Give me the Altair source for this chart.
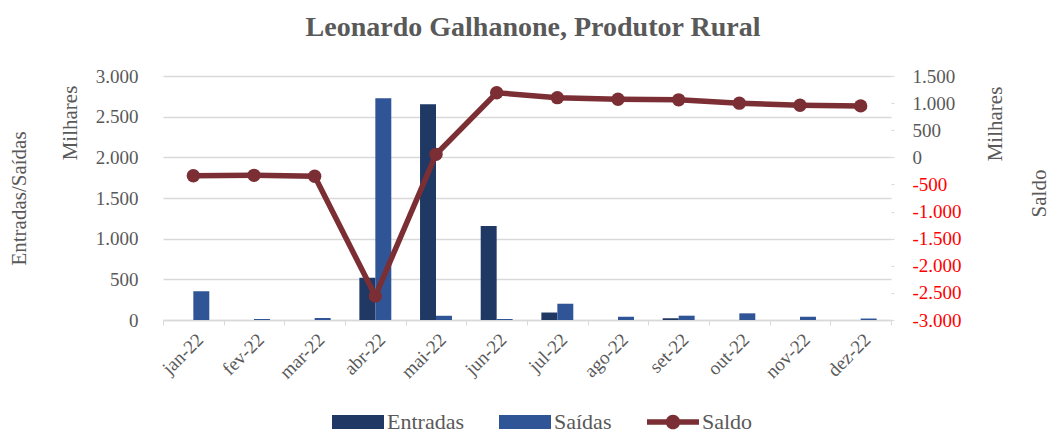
import altair as alt
import pandas as pd

months = ["jan-22", "fev-22", "mar-22", "abr-22", "mai-22", "jun-22",
          "jul-22", "ago-22", "set-22", "out-22", "nov-22", "dez-22"]
entradas = [0, 0, 0, 518, 2652, 1156, 92, 0, 20, 0, 0, 0]
saidas = [355, 12, 25, 2726, 52, 12, 200, 40, 53, 82, 40, 18]
saldo = [-340, -332, -350, -2558, 55, 1191, 1101, 1072, 1060, 999, 962, 949]

series_names = ["Entradas", "Saídas", "Saldo"]
series_colors = ["#203864", "#2F5597", "#7B2F34"]
left_ticks = [0, 500, 1000, 1500, 2000, 2500, 3000]
right_ticks = [-3000, -2500, -2000, -1500, -1000, -500, 0, 500, 1000, 1500]

FONT = "Liberation Serif"
GRAY = "#595959"

bars_df = pd.DataFrame({
    "mes": months * 2,
    "serie": ["Entradas"] * len(months) + ["Saídas"] * len(months),
    "valor": entradas + saidas,
})
line_df = pd.DataFrame({"mes": months, "saldo": saldo, "serie": ["Saldo"] * len(months)})

fmt = "(datum.value < 0 ? '-' : '') + replace(format(abs(datum.value), ','), ',', '.')"

x_enc = alt.X(
    "mes:N", sort=months, title=None,
    scale=alt.Scale(paddingInner=0, paddingOuter=0),
    axis=alt.Axis(labelAngle=-45, labelAlign="right", labelBaseline="top",
                  labelFontSize=19, labelColor=GRAY, labelPadding=5, labelFont=FONT,
                  tickBand="extent", tickColor="#D9D9D9", tickSize=5,
                  domainColor="#D9D9D9", domainWidth=1.5, grid=False),
)

rect_path = "M-1,-0.27L1,-0.27L1,0.27L-1,0.27Z"
line_path = ("M-1,-0.11L1,-0.11L1,0.11L-1,0.11Z"
             "M0.28,0A0.28,0.28 0 1,1 -0.28,0A0.28,0.28 0 1,1 0.28,0Z")

legend = alt.Legend(
    title=None, orient="none", direction="horizontal", legendX=169, legendY=320,
    labelFontSize=22, labelColor=GRAY, labelFont=FONT, symbolSize=2704,
    columnPadding=35, labelOffset=3,
    symbolType={"expr": f"datum.value === 'Saldo' ? '{line_path}' : '{rect_path}'"},
    symbolFillColor={"expr": "scale('color', datum.value)"},
    symbolStrokeColor="transparent", symbolStrokeWidth=0, symbolOpacity=1,
)

bars = alt.Chart(bars_df).mark_bar().encode(
    x=x_enc,
    xOffset=alt.XOffset("serie:N", sort=["Entradas", "Saídas"],
                        scale=alt.Scale(paddingInner=0, paddingOuter=0.9)),
    y=alt.Y("valor:Q", scale=alt.Scale(domain=[0, 3000]),
            axis=alt.Axis(values=left_ticks, labelExpr=fmt, labelFontSize=19, labelFont=FONT,
                          labelColor=GRAY, labelPadding=25, ticks=False, domain=False,
                          grid=True, gridColor="#D9D9D9", gridWidth=1.5,
                          title="Entradas/Saídas", titleFontSize=21, titleColor=GRAY,
                          titleFont=FONT,
                          titleFontWeight="normal", titleAngle=270, titleX=-134, titleY=122,
                          titleBaseline="bottom", titleAlign="center")),
    color=alt.Color("serie:N", scale=alt.Scale(domain=series_names, range=series_colors),
                    legend=legend),
)

line = alt.Chart(line_df).mark_line(
    strokeWidth=5.5,
    point=alt.OverlayMarkDef(size=180, filled=True, opacity=1),
).encode(
    x=x_enc,
    y=alt.Y("saldo:Q", scale=alt.Scale(domain=[-3000, 1500]),
            axis=alt.Axis(orient="right", values=right_ticks, labelExpr=fmt, labelFontSize=19,
                          labelFont=FONT,
                          labelColor={"condition": {"test": "datum.value < 0", "value": "#FF0000"},
                                      "value": GRAY},
                          labelPadding=18, ticks=True, tickSize=3, tickColor="#D9D9D9",
                          domain=False, grid=False,
                          title="Saldo", titleFontSize=21, titleColor=GRAY, titleFont=FONT,
                          titleFontWeight="normal", titleAngle=270, titleX=158, titleY=117,
                          titleBaseline="bottom", titleAlign="center")),
    color=alt.Color("serie:N", scale=alt.Scale(domain=series_names, range=series_colors),
                    legend=legend),
)

mil_left = alt.Chart(pd.DataFrame({"t": ["Milhares"]})).mark_text(
    angle=270, baseline="bottom", align="center", fontSize=21, color=GRAY, font=FONT
).encode(text="t:N", x=alt.value(-82), y=alt.value(47))

mil_right = alt.Chart(pd.DataFrame({"t": ["Milhares"]})).mark_text(
    angle=270, baseline="bottom", align="center", fontSize=21, color=GRAY, font=FONT
).encode(text="t:N", x=alt.value(843), y=alt.value(48))

chart = alt.layer(bars, line, mil_left, mil_right).resolve_scale(
    y="independent"
).properties(
    width=728, height=244,
    background="white",
    autosize=alt.AutoSizeParams(type="none"),
    padding={"left": 155, "top": 68, "right": 159, "bottom": 113},
    title=alt.TitleParams("Leonardo Galhanone, Produtor Rural", fontSize=28, font=FONT,
                          fontWeight="bold", color=GRAY, anchor="middle", offset=25, dx=6),
).configure(font=FONT).configure_view(stroke=None).configure_legend(labelFont=FONT)

chart.save("out.html", embed_options={"renderer": "svg", "actions": False})
